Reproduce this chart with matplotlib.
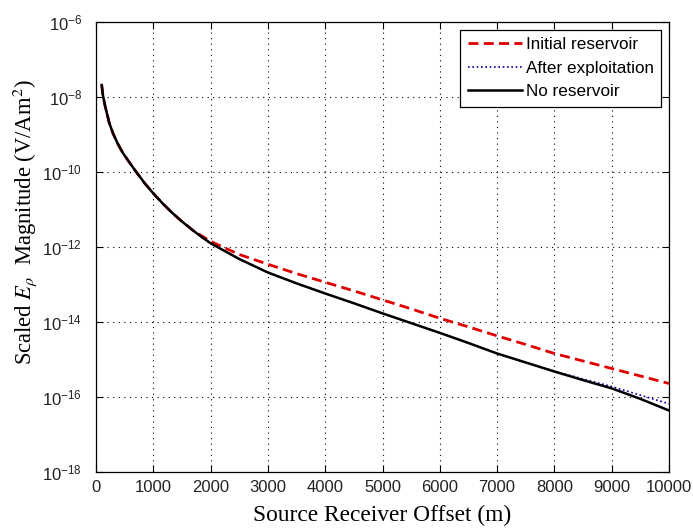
import numpy as np
import matplotlib
matplotlib.use("Agg")
import matplotlib.pyplot as plt
from matplotlib.ticker import FixedLocator, LogFormatterMathtext

plt.rcParams['font.family'] = ['Liberation Sans', 'DejaVu Sans']
plt.rcParams['mathtext.fontset'] = 'stix'
plt.rcParams['axes.unicode_minus'] = False

# offsets (m)
offset = [100, 120, 160, 233, 300, 378, 460, 553, 698, 850, 1000, 1170, 1337, 1500,
          1686, 1850, 2000, 2500, 3000, 3500, 4000, 4500, 5000, 5500, 6000, 6500,
          7000, 7500, 8000, 8500, 9000, 9500, 10000]
# log10 of magnitudes
no_res_log = [-7.68, -7.95, -8.25, -8.70, -8.98, -9.24, -9.47, -9.68, -9.99, -10.30,
              -10.57, -10.85, -11.10, -11.32, -11.55, -11.74, -11.90, -12.32, -12.68,
              -12.97, -13.24, -13.50, -13.77, -14.03, -14.29, -14.56, -14.84, -15.08,
              -15.32, -15.55, -15.77, -16.05, -16.36]
initial_log = [-7.68, -7.95, -8.25, -8.70, -8.98, -9.24, -9.47, -9.68, -9.99, -10.30,
               -10.57, -10.85, -11.10, -11.32, -11.55, -11.71, -11.85, -12.20, -12.46,
               -12.71, -12.94, -13.17, -13.41, -13.65, -13.90, -14.13, -14.37, -14.60,
               -14.84, -15.04, -15.24, -15.44, -15.64]
after_log = [-7.68, -7.95, -8.25, -8.70, -8.98, -9.24, -9.47, -9.68, -9.99, -10.30,
             -10.57, -10.85, -11.10, -11.32, -11.55, -11.74, -11.90, -12.32, -12.68,
             -12.97, -13.24, -13.50, -13.77, -14.03, -14.29, -14.56, -14.84, -15.08,
             -15.31, -15.52, -15.72, -15.95, -16.18]

x = np.array(offset)
initial = 10.0 ** np.array(initial_log)
after = 10.0 ** np.array(after_log)
nores = 10.0 ** np.array(no_res_log)

fig = plt.figure(figsize=(6.93, 5.31), dpi=100)
ax = fig.add_axes([96/693, 59/531, 573/693, 450/531])

ax.plot(x, initial, color='#e00000', lw=2.0, ls=(0, (3.6, 1.9)), label='Initial reservoir', zorder=3)
ax.plot(x, after, color='#0000a0', lw=1.2, ls=(0, (1, 1.6)), label='After exploitation', zorder=4)
ax.plot(x, nores, color='black', lw=1.8, label='No reservoir', zorder=5)

ax.set_yscale('log')
ax.set_xlim(0, 10000)
ax.set_ylim(1e-18, 1e-6)
ax.xaxis.set_major_locator(FixedLocator(np.arange(0, 10001, 1000)))
ax.yaxis.set_major_locator(FixedLocator([10.0**k for k in range(-18, -5, 2)]))
ax.yaxis.set_minor_locator(FixedLocator([]))
ax.yaxis.set_major_formatter(LogFormatterMathtext())
ax.grid(True, which='major', color='black', ls=(0, (1, 4)), lw=0.8)
ax.tick_params(direction='in', top=True, right=True, length=5, labelsize=12, width=0.8,
               colors='black', labelcolor='#222222')
ax.tick_params(axis='y', which='minor', left=False, right=False)
ax.tick_params(axis='x', pad=6)
ax.tick_params(axis='y', pad=10)
for s in ax.spines.values():
    s.set_linewidth(0.9)

ax.set_xlabel('Source Receiver Offset (m)',
              fontdict={'family': ['Liberation Serif', 'DejaVu Serif'], 'size': 16.8}, labelpad=7)
ax.set_ylabel(r'Scaled $E_\rho$  Magnitude (V/Am$^2$)',
              fontdict={'family': ['Liberation Serif', 'DejaVu Serif'], 'size': 16.3})
ax.yaxis.set_label_coords(-0.1, 0.556)

leg = ax.legend(loc='upper right', fontsize=12.3, fancybox=False, framealpha=1,
                edgecolor='black', handlelength=3.2, handletextpad=0.2,
                borderpad=0.45, labelspacing=0.5, borderaxespad=0.45)
leg.get_frame().set_linewidth(0.9)

fig.savefig('out.png', dpi=100)
